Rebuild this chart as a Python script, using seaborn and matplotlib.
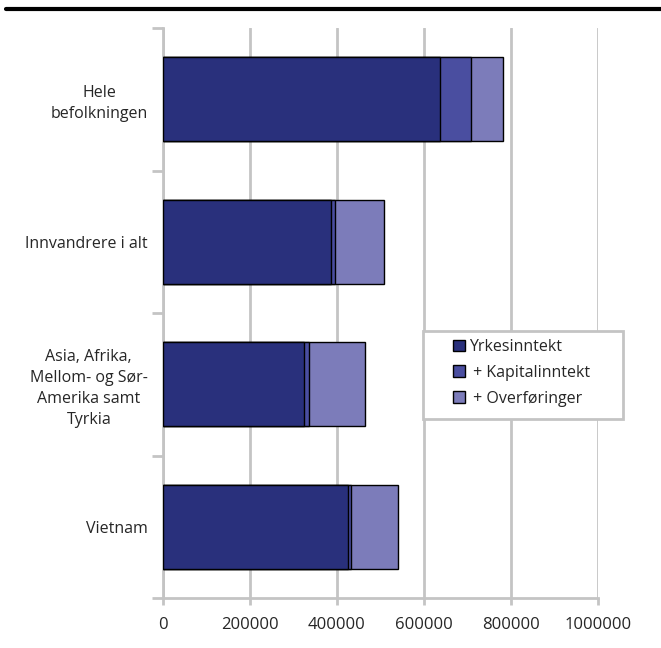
import numpy as np
import pandas as pd
import matplotlib.pyplot as plt
import seaborn as sns
from matplotlib.patches import Patch, Rectangle
from matplotlib.ticker import FixedLocator

# data
categories = ['Hele\nbefolkningen', 'Innvandrere i alt',
              'Asia, Afrika,\nMellom- og Sør-\nAmerika samt\nTyrkia', 'Vietnam']
yrkesinntekt = [636000, 386000, 325000, 425000]
kapitalinntekt = [71000, 10000, 11000, 8000]
overforinger = [74000, 112000, 128000, 108000]
series_names = ['Yrkesinntekt', ' + Kapitalinntekt', ' + Overføringer']
colors = ['#29307C', '#4A4EA0', '#7C7CBA']

df = pd.DataFrame({
    'kategori': categories,
    'yrkes': yrkesinntekt,
    'kap': np.array(yrkesinntekt) + np.array(kapitalinntekt),
    'total': np.array(yrkesinntekt) + np.array(kapitalinntekt) + np.array(overforinger),
})

sns.set_style('white')
plt.rcParams['font.family'] = ['Open Sans', 'DejaVu Sans']

fig = plt.figure(figsize=(6.61, 6.48), dpi=100)
ax = fig.add_axes([163 / 661, 1 - 598 / 648, (598 - 163) / 661, (598 - 28) / 648])

# stacked bars drawn as cumulative layers, back to front
for col, c in zip(['total', 'kap', 'yrkes'], colors[::-1]):
    sns.barplot(data=df, x=col, y='kategori', orient='h', color=c, width=0.59,
                edgecolor='black', linewidth=1, saturation=1, ax=ax, zorder=3)

ax.set_xlim(0, 1000000)
ax.set_ylim(3.5, -0.5)
ax.set_xticks(np.arange(0, 1000001, 200000))
ax.set_xticklabels([str(v) for v in range(0, 1000001, 200000)], fontsize=12)
ax.xaxis.grid(True, color='#c4c4c4', linewidth=2, zorder=0)
ax.set_axisbelow(True)

ax.set_yticks(range(len(categories)))
ax.set_yticklabels(categories, fontsize=11.5, multialignment='center', linespacing=1.4)
ax.yaxis.set_minor_locator(FixedLocator([-0.5, 0.5, 1.5, 2.5, 3.5]))
ax.tick_params(axis='y', which='major', length=0, pad=11)
ax.tick_params(axis='y', which='minor', length=8, width=2, color='#c4c4c4', left=True)
ax.tick_params(axis='x', length=5, width=2, color='#c4c4c4', pad=9, bottom=True)
ax.set_xlabel('')
ax.set_ylabel('')

for side in ['top', 'right']:
    ax.spines[side].set_visible(False)
for side in ['left', 'bottom']:
    ax.spines[side].set_color('#c4c4c4')
    ax.spines[side].set_linewidth(2)

# legend box
x0, x1 = (423 - 163) / 435, (623 - 163) / 435
y_top, y_bot = 1 - (331 - 28) / 570, 1 - (419 - 28) / 570
ax.add_patch(Rectangle((x0, y_bot), x1 - x0, y_top - y_bot, transform=ax.transAxes,
                       facecolor='white', edgecolor='#c4c4c4', linewidth=2,
                       zorder=5, clip_on=False))

handles = [Patch(facecolor=c, edgecolor='black', linewidth=1) for c in colors]
leg = ax.legend(handles, series_names, loc='upper left',
                bbox_to_anchor=((453 - 163) / 435, 1 - (339 - 28) / 570),
                frameon=False, fontsize=11.5,
                handlelength=0.75, handleheight=0.75, handletextpad=0.25,
                labelspacing=0.62, borderpad=0, borderaxespad=0)
leg.set_zorder(6)

# thick rule along the top
fig.add_artist(plt.Line2D([6 / 661, 1], [1 - 9 / 648, 1 - 9 / 648],
                          color='black', linewidth=3, transform=fig.transFigure))

plt.savefig('out.png', dpi=100)
